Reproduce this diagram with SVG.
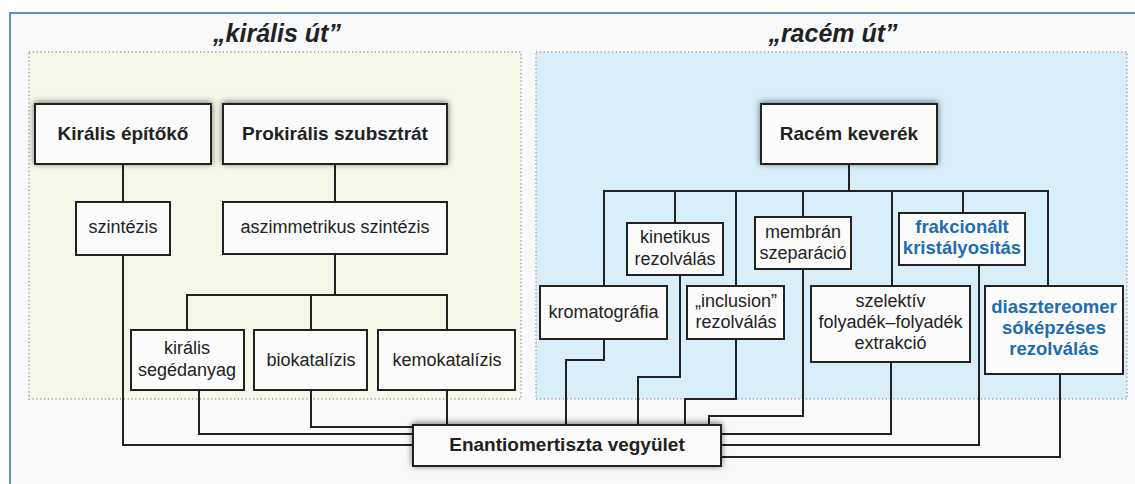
<svg xmlns="http://www.w3.org/2000/svg" width="1135" height="484" viewBox="0 0 1135 484">
<defs>
<style>
text{font-family:"Liberation Sans",Arial,sans-serif;fill:#222;text-anchor:middle}
.t{font-size:25px;font-weight:bold;font-style:italic}
.b{font-size:19px;font-weight:bold}
.r{font-size:18px}
.bl{font-size:18.5px;font-weight:bold;fill:#1d6db5}
.box{fill:#fcfcfd;stroke:#222;stroke-width:2}
.con{fill:none;stroke:#222;stroke-width:2}
.panel{stroke:#9a9a9a;stroke-width:1.5;stroke-dasharray:1.2 2.6}
</style>
<filter id="sh" x="-15%" y="-40%" width="130%" height="180%">
<feGaussianBlur in="SourceAlpha" stdDeviation="3"/>
<feOffset dx="0" dy="-1"/>
<feComponentTransfer><feFuncA type="linear" slope="0.55"/></feComponentTransfer>
<feMerge><feMergeNode/><feMergeNode in="SourceGraphic"/></feMerge>
</filter>
</defs>
<rect x="0" y="0" width="1135" height="484" fill="#ffffff"/>
<rect x="10" y="13" width="1125" height="471" fill="#f8f9fa"/>
<path d="M10,484 V13 H1135" fill="none" stroke="#5b8fc8" stroke-width="2"/>
<g id="panels">
<rect class="panel" x="29" y="52" width="492" height="347" fill="#f7f7e9"/>
<rect class="panel" x="536" y="52" width="591" height="347" fill="#d9eef9"/>
<text class="t" x="277" y="42">„királis út”</text>
<text class="t" x="833" y="42">„racém út”</text>
</g>
<g id="connectors">
<path class="con" d="M123,164 V202"/>
<path class="con" d="M335,164 V202"/>
<path class="con" d="M335,254 V295"/>
<path class="con" d="M187,330 V295 H447 V330"/>
<path class="con" d="M311,295 V330"/>
<path class="con" d="M123,255 V445 H413"/>
<path class="con" d="M199,390 V434 H413"/>
<path class="con" d="M311,390 V427 H413"/>
<path class="con" d="M447,390 V425"/>
<path class="con" d="M849,164 V191"/>
<path class="con" d="M604,286 V191 H1048 V286"/>
<path class="con" d="M675,191 V223"/>
<path class="con" d="M736,191 V286"/>
<path class="con" d="M803,191 V217"/>
<path class="con" d="M892,191 V286"/>
<path class="con" d="M963,191 V213"/>
<path class="con" d="M604,339 V360 H566 V425"/>
<path class="con" d="M680,275 V377 H638 V425"/>
<path class="con" d="M736,339 V399 H685 V425"/>
<path class="con" d="M803,269 V416 H709 V425"/>
<path class="con" d="M891,362 V434 H721"/>
<path class="con" d="M979,265 V445 H721"/>
<path class="con" d="M1060,374 V457 H721"/>
</g>
<g id="kiralis-epitoko"><rect class="box" x="35" y="104" width="176" height="60" filter="url(#sh)"/><text class="b" x="123" y="140">Királis építőkő</text></g>
<g id="prokiralis"><rect class="box" x="223" y="104" width="224" height="60" filter="url(#sh)"/><text class="b" x="335" y="140">Prokirális szubsztrát</text></g>
<g id="racem"><rect class="box" x="761" y="104" width="176" height="60" filter="url(#sh)"/><text class="b" x="849" y="140">Racém keverék</text></g>
<g id="szintezis"><rect class="box" x="76" y="202" width="94" height="53"/><text class="r" x="123" y="233">szintézis</text></g>
<g id="aszimmetrikus"><rect class="box" x="223" y="202" width="224" height="52"/><text class="r" x="335" y="233">aszimmetrikus szintézis</text></g>
<g id="kiralis-segedanyag"><rect class="box" x="131" y="330" width="113" height="60"/><text class="r" x="187" y="354">királis</text><text class="r" x="187" y="376">segédanyag</text></g>
<g id="biokatalizis"><rect class="box" x="254" y="330" width="113" height="60"/><text class="r" x="311" y="366">biokatalízis</text></g>
<g id="kemokatalizis"><rect class="box" x="378" y="330" width="137" height="60"/><text class="r" x="447" y="366">kemokatalízis</text></g>
<g id="kinetikus"><rect class="box" x="627" y="223" width="96" height="52"/><text class="r" x="675" y="243">kinetikus</text><text class="r" x="675" y="265">rezolválás</text></g>
<g id="membran"><rect class="box" x="755" y="217" width="96" height="52"/><text class="r" x="803" y="238">membrán</text><text class="r" x="803" y="259">szeparáció</text></g>
<g id="frakcionalt"><rect class="box" x="899" y="213" width="126" height="52"/><text class="bl" x="962" y="233">frakcionált</text><text class="bl" x="962" y="254">kristályosítás</text></g>
<g id="kromatografia"><rect class="box" x="540" y="286" width="127" height="53"/><text class="r" x="603.5" y="318">kromatográfia</text></g>
<g id="inclusion"><rect class="box" x="687" y="286" width="97" height="53"/><text class="r" x="736" y="307">„inclusion”</text><text class="r" x="736" y="328">rezolválás</text></g>
<g id="szelektiv"><rect class="box" x="811" y="286" width="159" height="76"/><text class="r" x="890.5" y="307">szelektív</text><text class="r" x="890.5" y="328">folyadék–folyadék</text><text class="r" x="890.5" y="349">extrakció</text></g>
<g id="diasztereomer"><rect class="box" x="985" y="286" width="138" height="88"/><text class="bl" x="1054" y="313">diasztereomer</text><text class="bl" x="1054" y="334">sóképzéses</text><text class="bl" x="1054" y="355">rezolválás</text></g>
<g id="enantiomertiszta"><rect class="box" x="413" y="425" width="308" height="41" filter="url(#sh)"/><text class="b" x="567" y="451">Enantiomertiszta vegyület</text></g>
</svg>
